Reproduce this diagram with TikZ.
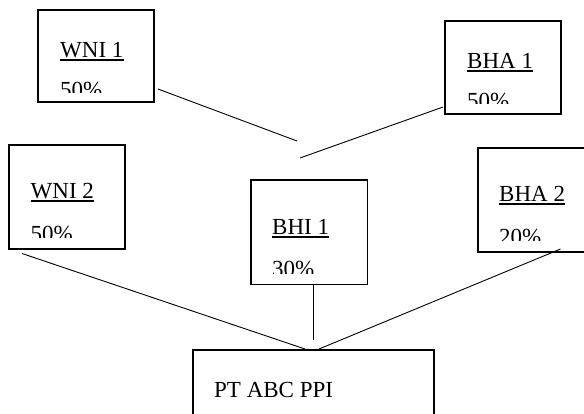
\documentclass[tikz,border=0pt]{standalone}
\usepackage{fontspec}
\setmainfont{Liberation Serif}
\begin{document}
\begin{tikzpicture}[x=1pt,y=-1pt,
  box/.style={draw,line width=1.5pt,inner sep=0pt},
  lbl/.style={anchor=base west,inner sep=0pt,font=\fontsize{23}{23}\selectfont},
  uline/.style={line width=1.4pt},
  conn/.style={line width=0.9pt}]
\useasboundingbox (0,0) rectangle (584,413);
\clip (0,0) rectangle (584,413);
% boxes
\node[box,minimum width=116pt,minimum height=92pt] (wni1) at (96,56) {};
\node[box,minimum width=116pt,minimum height=93pt] (bha1) at (503,67.5) {};
\node[box,minimum width=116pt,minimum height=104pt] (wni2) at (67,197) {};
\node[box,minimum width=116.5pt,minimum height=104.5pt] (bhi1) at (309.25,232.25) {};
\node[box,minimum width=116pt,minimum height=104pt] (bha2) at (536,200) {};
\node[box,minimum width=241pt,minimum height=80pt] (pt) at (313.5,390) {};
% titles
\node[lbl] (wni1t) at (60,57) {WNI 1};
\node[lbl] (bha1t) at (467,68) {BHA 1};
\node[lbl] (wni2t) at (30.5,198) {WNI 2};
\node[lbl] (bhi1t) at (272,234) {BHI 1};
\node[lbl] (bha2t) at (499,201) {BHA 2};
\node[lbl] (ptt) at (214,397) {PT ABC PPI};
\foreach \t in {wni1t,bha1t,wni2t,bhi1t,bha2t}
  \draw[uline] ([yshift=-3pt]\t.base west) -- ([yshift=-3pt]\t.base east);
% clipped percentages
\begin{scope}
  \clip (38,10) rectangle (154,92.5);
  \node[lbl] (wni1p) at (60,97) {50\%};
\end{scope}
\begin{scope}
  \clip (445,21) rectangle (561,103);
  \node[lbl] (bha1p) at (467,108) {50\%};
\end{scope}
\begin{scope}
  \clip (9,145) rectangle (125,237);
  \node[lbl] (wni2p) at (30.5,241) {50\%};
\end{scope}
\begin{scope}
  \clip (251,180) rectangle (367,273);
  \node[lbl] (bhi1p) at (272,276) {30\%};
\end{scope}
\begin{scope}
  \clip (478,148) rectangle (590,240.5);
  \node[lbl] (bha2p) at (499,244) {20\%};
\end{scope}
% connector end points
\coordinate (a1) at (158,89);
\coordinate (a2) at (297,141);
\coordinate (b1) at (443,107);
\coordinate (b2) at (300,158);
\coordinate (c1) at (22,253.5);
\coordinate (c2) at (305,349);
\coordinate (d1) at (313,284.5);
\coordinate (d2) at (313,340);
\coordinate (e1) at (560.5,249);
\coordinate (e2) at (319,349);
\draw[conn] (a1) -- (a2);
\draw[conn] (b1) -- (b2);
\draw[conn] (c1) -- (c2);
\draw[conn] (d1) -- (d2);
\draw[conn] (e1) -- (e2);
\end{tikzpicture}
\end{document}
